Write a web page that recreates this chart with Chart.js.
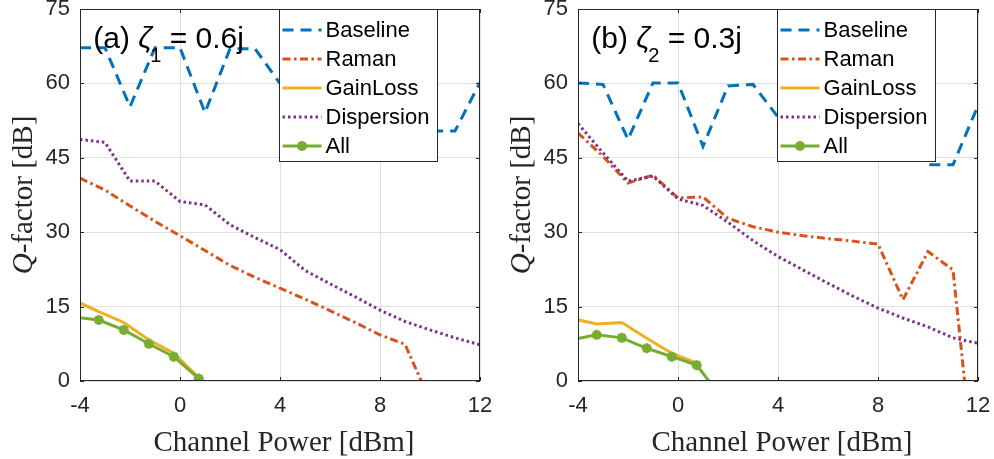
<!DOCTYPE html>
<html>
<head>
<meta charset="utf-8">
<script src="https://cdn.jsdelivr.net/npm/chart.js@4.4.1/dist/chart.umd.min.js"></script>
<style>
  html, body { margin: 0; padding: 0; background: #fff; }
  #wrap { position: relative; width: 994px; height: 459px; overflow: hidden; }
  canvas { position: absolute; top: 0; }
</style>
</head>
<body>
<div id="wrap">
  <canvas id="chartA" width="497" height="459" style="left:0"></canvas>
  <canvas id="chartB" width="496" height="459" style="left:498px"></canvas>
</div>
<script>
// channel power grids [dBm]
const powerGrid = [-4, -3, -2, -1, 0, 1, 2, 3, 4, 5, 6, 7, 8, 9, 10, 11, 12];
const powerShifted = [-4.25, -3.25, -2.25, -1.25, -0.25, 0.75, 1.75];
const xTicks = [-4, 0, 4, 8, 12];
const yTicks = [0, 15, 30, 45, 60, 75];
const seriesNames = ["Baseline", "Raman", "GainLoss", "Dispersion", "All"];

// panel (a): zeta_1 = 0.6j, Q-factor [dB]
const baselineA   = [67.2, 67.2, 55.3, 67.2, 67.2, 54.1, 67.0, 67.0, 60.0, 56.0, 66.0, 66.0, 57.0, 62.0, 50.4, 50.4, 60.2];
const ramanA      = [40.9, 38.5, 35.3, 32.2, 29.3, 26.3, 23.3, 20.9, 18.7, 16.5, 14.2, 11.8, 9.3, 7.4, -4.0, null, null];
const dispersionA = [48.7, 48.1, 40.3, 40.3, 36.2, 35.5, 31.5, 28.9, 26.5, 22.3, 19.6, 17.0, 14.3, 12.0, 10.3, 8.7, 7.3];
const gainLossA   = [16.3, 14.0, 11.8, 8.3, 5.6, 0.7, null];
const allA        = [12.9, 12.3, 10.3, 7.5, 4.9, 0.5, null];

// panel (b): zeta_2 = 0.3j
const baselineB   = [60.1, 59.8, 48.7, 60.1, 60.1, 47.3, 59.5, 59.8, 53.2, 57.0, 51.0, 56.0, 52.0, 48.0, 43.6, 43.6, 55.5];
const ramanB      = [50.0, 45.3, 39.9, 41.5, 36.9, 37.1, 32.8, 31.1, 30.0, 29.3, 28.7, 28.2, 27.6, 16.4, 26.1, 22.4, -26.0];
const dispersionB = [51.9, 46.0, 40.3, 41.3, 36.7, 35.4, 32.0, 28.3, 25.1, 22.4, 19.7, 17.1, 14.7, 12.7, 10.9, 8.7, 7.6];
const gainLossB   = [12.6, 11.5, 11.8, 8.6, 5.6, 3.6, null];
const allB        = [8.3, 9.3, 8.7, 6.6, 4.9, 3.2, -3.4];

const SANS = '"Liberation Sans", Arial, Helvetica, sans-serif';
const SERIF = '"Liberation Serif", "Times New Roman", serif';

const styles = [
  { color: "#0072BD", dash: [11, 7] },
  { color: "#D95319", dash: [8, 3.5, 2.5, 3.5] },
  { color: "#EDB120", dash: [] },
  { color: "#7E2F8E", dash: [2.5, 3] },
  { color: "#77AC30", dash: [], marker: true },
];

const pts = (xs, ys) => ys.map((v, i) => ({ x: xs[i], y: v }));

function drawStar(ctx, cx, cy, r) {
  ctx.beginPath();
  ctx.moveTo(cx - r, cy); ctx.lineTo(cx + r, cy);
  ctx.moveTo(cx, cy - r); ctx.lineTo(cx, cy + r);
  const d = r * 0.7071;
  ctx.moveTo(cx - d, cy - d); ctx.lineTo(cx + d, cy + d);
  ctx.moveTo(cx - d, cy + d); ctx.lineTo(cx + d, cy - d);
  ctx.stroke();
}

// MATLAB-like box, inward ticks, legend and labels
const matlabFrame = {
  id: "matlabFrame",
  afterDatasetsDraw(chart, args, opts) {
    const { ctx, chartArea: a, scales: { x, y } } = chart;
    ctx.save();
    ctx.setLineDash([]);
    ctx.strokeStyle = "#262626";
    ctx.lineWidth = 1;
    ctx.strokeRect(a.left + 0.5, a.top + 0.5, a.width - 1, a.height - 1);
    ctx.beginPath();
    xTicks.forEach(v => {
      const px = Math.round(x.getPixelForValue(v)) + 0.5;
      ctx.moveTo(px, a.bottom); ctx.lineTo(px, a.bottom - 4);
      ctx.moveTo(px, a.top); ctx.lineTo(px, a.top + 4);
    });
    yTicks.forEach(v => {
      const py = Math.round(y.getPixelForValue(v)) + 0.5;
      ctx.moveTo(a.left, py); ctx.lineTo(a.left + 4, py);
      ctx.moveTo(a.right, py); ctx.lineTo(a.right - 4, py);
    });
    ctx.stroke();

    // panel label
    ctx.fillStyle = "#000";
    ctx.textBaseline = "alphabetic";
    let tx = a.left + 13.3;
    const by = a.top + 39;
    ctx.font = "30px " + SANS;
    ctx.fillText(opts.tag + " ", tx, by);
    tx += ctx.measureText(opts.tag + " ").width;
    ctx.font = "italic 30px " + SANS;
    ctx.fillText("\u03B6", tx, by);
    tx += ctx.measureText("\u03B6").width - 2;
    ctx.font = "20px " + SANS;
    ctx.fillText(opts.sub, tx, by + 14);
    tx += ctx.measureText(opts.sub).width;
    ctx.font = "30px " + SANS;
    ctx.fillText(" = " + opts.value, tx, by);

    // legend box
    const lx = a.left + 199.5, ly = a.top + 0.5, lw = 158, lh = 152;
    ctx.fillStyle = "#fff";
    ctx.fillRect(lx, ly, lw, lh);
    ctx.strokeStyle = "#262626";
    ctx.lineWidth = 1;
    ctx.strokeRect(lx, ly, lw, lh);
    ctx.font = "22px " + SANS;
    ctx.textBaseline = "middle";
    chart.data.datasets.forEach((ds, i) => {
      const cy = ly + 20.5 + i * 29;
      ctx.strokeStyle = ds.borderColor;
      ctx.lineWidth = ds.borderWidth;
      ctx.setLineDash(ds.borderDash || []);
      ctx.beginPath();
      ctx.moveTo(lx + 3, cy); ctx.lineTo(lx + 42, cy);
      ctx.stroke();
      ctx.setLineDash([]);
      if (ds.pointRadius > 0) drawStar(ctx, lx + 22.5, cy, 5);
      ctx.fillStyle = "#000";
      ctx.fillText(ds.label, lx + 46, cy + 1);
    });
    ctx.restore();
  },
  afterDraw(chart) {
    const { ctx, chartArea: a } = chart;
    ctx.save();
    ctx.fillStyle = "#262626";
    ctx.textBaseline = "alphabetic";
    // x title
    ctx.font = "29px " + SERIF;
    ctx.textAlign = "center";
    ctx.fillText("Channel Power [dBm]", (a.left + a.right) / 2 + 4, 451);
    // y title, italic Q
    ctx.textAlign = "left";
    ctx.translate(32, (a.top + a.bottom) / 2);
    ctx.rotate(-Math.PI / 2);
    ctx.font = "italic 29px " + SERIF;
    const wq = ctx.measureText("Q").width;
    ctx.font = "29px " + SERIF;
    const wr = ctx.measureText("-factor [dB]").width;
    let sx = -(wq + wr) / 2;
    ctx.font = "italic 29px " + SERIF;
    ctx.fillText("Q", sx, 0);
    ctx.font = "29px " + SERIF;
    ctx.fillText("-factor [dB]", sx + wq, 0);
    ctx.restore();
  }
};

function makeChart(id, series, panel) {
  const canvas = document.getElementById(id);
  const datasets = series.map((s, i) => ({
    label: seriesNames[i],
    data: pts(s.xs, s.ys),
    borderColor: styles[i].color,
    backgroundColor: styles[i].color,
    borderWidth: 3,
    borderDash: styles[i].dash,
    pointRadius: styles[i].marker ? 5 : 0,
    pointStyle: "star",
    pointBorderWidth: 3,
    pointBorderColor: styles[i].color,
    order: series.length - i,
    tension: 0,
    fill: false,
    spanGaps: false
  }));
  return new Chart(canvas, {
    type: "line",
    data: { datasets },
    options: {
      responsive: false,
      animation: false,
      devicePixelRatio: 1,
      layout: { padding: { left: 0, right: canvas.width - 480, top: 9, bottom: 0 } },
      plugins: {
        legend: { display: false },
        tooltip: { enabled: false },
        matlabFrame: panel
      },
      scales: {
        x: {
          type: "linear", min: -4, max: 12,
          afterBuildTicks: s => { s.ticks = xTicks.map(v => ({ value: v })); },
          afterFit: s => { s.height = 78; s.paddingLeft = 0; s.paddingRight = 0; },
          grid: { color: "#dfdfdf", drawTicks: false },
          border: { display: false },
          ticks: { padding: 12, maxRotation: 0, color: "#262626", font: { family: SANS, size: 22 } }
        },
        y: {
          type: "linear", min: 0, max: 75,
          afterBuildTicks: s => { s.ticks = yTicks.map(v => ({ value: v })); },
          afterFit: s => { s.width = 80; s.paddingTop = 0; s.paddingBottom = 0; },
          grid: { color: "#dfdfdf", drawTicks: false },
          border: { display: false },
          ticks: { padding: 10, color: "#262626", font: { family: SANS, size: 22 } }
        }
      }
    },
    plugins: [matlabFrame]
  });
}

makeChart("chartA", [
  { xs: powerGrid, ys: baselineA },
  { xs: powerGrid, ys: ramanA },
  { xs: powerShifted, ys: gainLossA },
  { xs: powerGrid, ys: dispersionA },
  { xs: powerShifted, ys: allA }
], { tag: "(a)", sub: "1", value: "0.6j" });

makeChart("chartB", [
  { xs: powerGrid, ys: baselineB },
  { xs: powerGrid, ys: ramanB },
  { xs: powerShifted, ys: gainLossB },
  { xs: powerGrid, ys: dispersionB },
  { xs: powerShifted, ys: allB }
], { tag: "(b)", sub: "2", value: "0.3j" });
</script>
</body>
</html>
